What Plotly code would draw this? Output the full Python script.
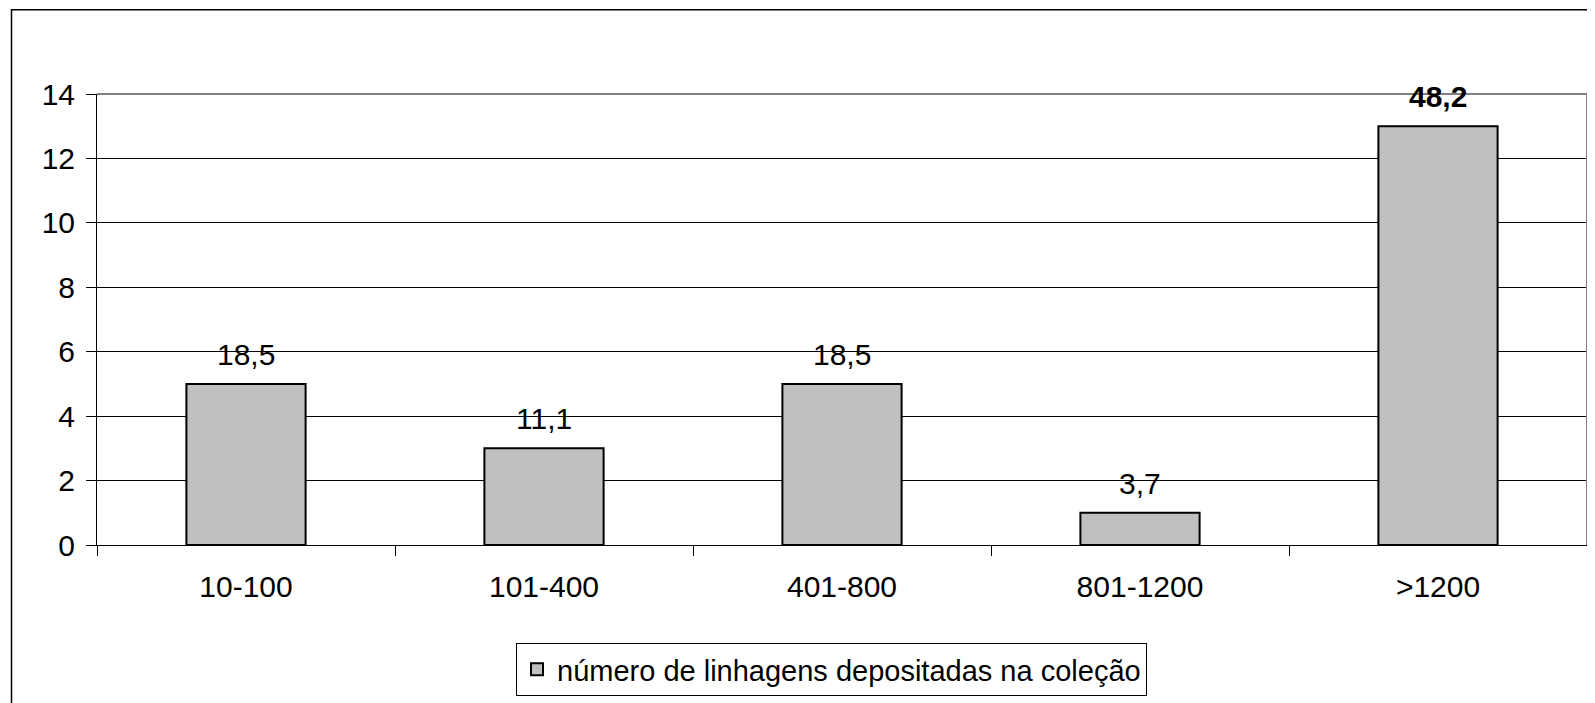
import plotly.graph_objects as go

categories = ["10-100", "101-400", "401-800", "801-1200", ">1200"]
counts = [5, 3, 5, 1, 13]
percent_labels = ["18,5", "11,1", "18,5", "3,7", "48,2"]
series_name = "número de linhagens depositadas na coleção"
y_ticks = [0, 2, 4, 6, 8, 10, 12, 14]

FONT = "Liberation Sans, Arial, sans-serif"
FS = 30
OFF = 8  # default page body margin
W, H = 1595 - OFF, 703 - OFF
L, T = 97 - OFF, 94 - OFF
R = W - (1587 - OFF)
B = H - (546 - OFF)
PW = W - L - R
PH = H - T - B

fig = go.Figure()
fig.add_trace(go.Bar(
    x=categories, y=counts, name=series_name,
    width=0.4,
    marker=dict(color="#C0C0C0", line=dict(color="black", width=2)),
    showlegend=True,
))

max_v = max(counts)
for c, v, lab in zip(categories, counts, percent_labels):
    txt = f"<b>{lab}</b>" if v == max_v else lab
    fig.add_annotation(x=c, y=v, text=txt, showarrow=False,
                       yanchor="bottom", yshift=11,
                       font=dict(family=FONT, size=FS, color="black"))

def px_to_paper_x(px):
    return (px - OFF - L) / PW

def px_to_paper_y(py):
    return (H - B - (py - OFF)) / PH

# outer chart border (extends past the image at right/bottom)
fig.add_shape(type="rect", xref="paper", yref="paper",
              x0=px_to_paper_x(11.5), x1=px_to_paper_x(1620),
              y0=px_to_paper_y(725), y1=px_to_paper_y(9.5),
              line=dict(color="black", width=1.5), layer="below")
# plot-area border top and right (gray)
fig.add_shape(type="line", xref="paper", yref="paper", x0=0, x1=1, y0=1, y1=1,
              line=dict(color="#808080", width=2), layer="above")
fig.add_shape(type="line", xref="paper", yref="paper", x0=1, x1=1, y0=0, y1=1,
              line=dict(color="#808080", width=2), layer="above")

fig.update_layout(
    width=W, height=H, autosize=False,
    margin=dict(l=L, r=R, t=T, b=B, pad=0),
    paper_bgcolor="white", plot_bgcolor="white",
    font=dict(family=FONT, size=FS, color="black"),
    bargap=0.6,
    showlegend=True,
    legend=dict(orientation="h", x=px_to_paper_x(516), xanchor="left",
                y=px_to_paper_y(643), yanchor="top",
                bordercolor="black", borderwidth=1,
                font=dict(family=FONT, size=29, color="black"),
                bgcolor="white"),
    xaxis=dict(type="category", showline=True, linecolor="black", linewidth=1,
               ticks="outside", tickson="boundaries", ticklen=10, tickcolor="black",
               showgrid=False, ticklabelstandoff=15,
               tickfont=dict(family=FONT, size=FS, color="black")),
    yaxis=dict(range=[0, 14], tickvals=y_ticks, showline=True, linecolor="black",
               linewidth=1, ticks="outside", ticklen=10, tickcolor="black",
               showgrid=True, gridcolor="black", gridwidth=1, zeroline=False,
               ticklabelstandoff=5,
               tickfont=dict(family=FONT, size=FS, color="black")),
)

fig.write_html("out.html")
